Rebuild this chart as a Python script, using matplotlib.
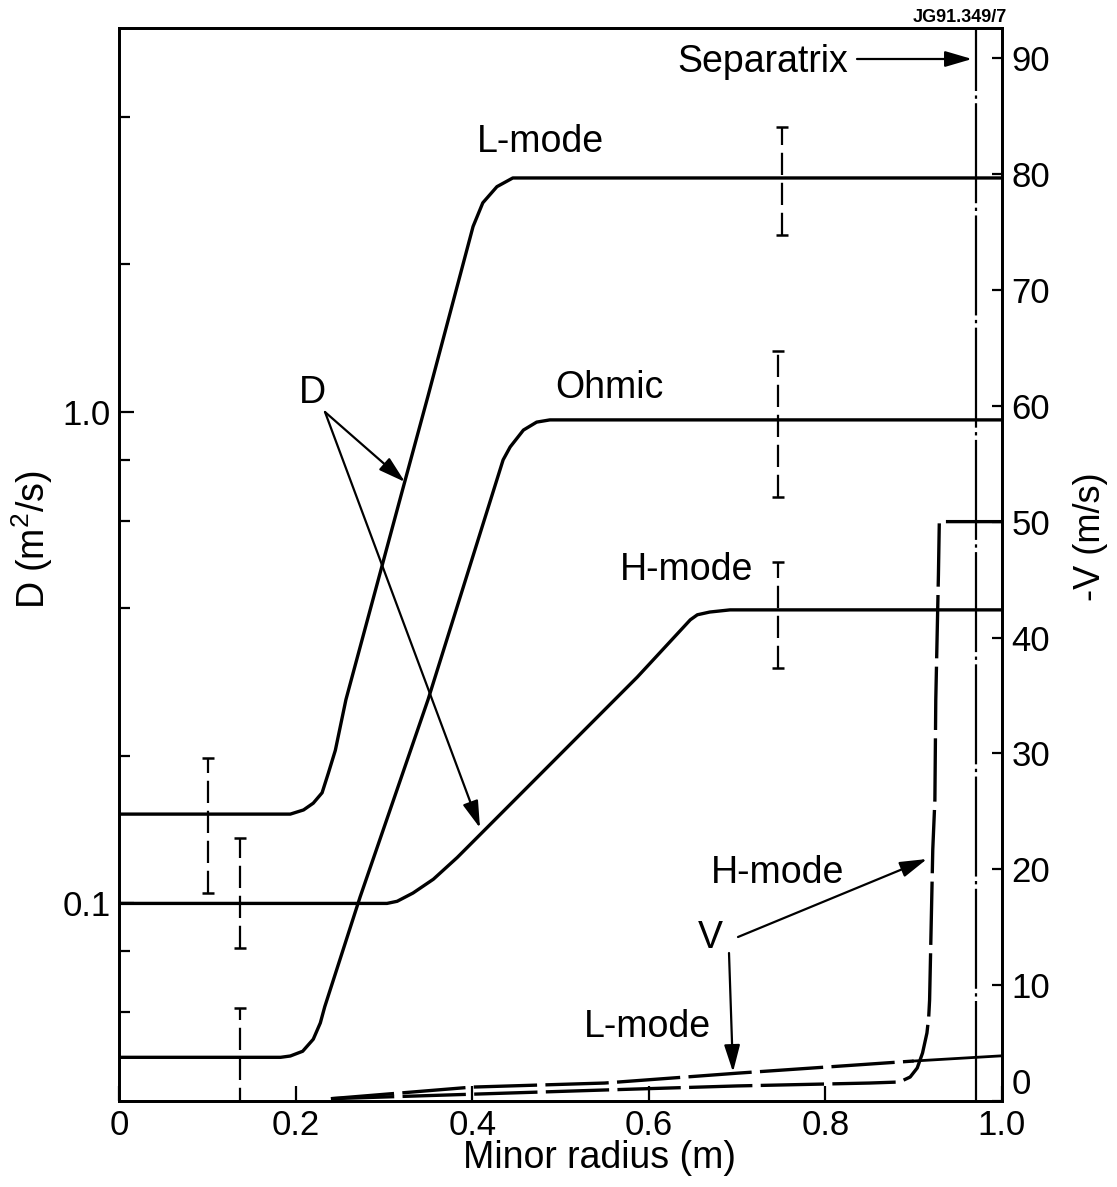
import matplotlib
matplotlib.use("Agg")
import matplotlib.pyplot as plt
import numpy as np

plt.rcParams['font.family'] = ['Liberation Sans', 'DejaVu Sans']

# ---------------- data ----------------
# Diffusion coefficient D (m^2/s) vs minor radius (m)
x_D_L = [0.0, 0.194, 0.209, 0.220, 0.230, 0.237, 0.245, 0.257, 0.319, 0.350,
         0.401, 0.412, 0.428, 0.446, 1.0]
D_L = [0.152, 0.152, 0.155, 0.160, 0.168, 0.184, 0.205, 0.26, 0.673, 1.08,
       2.39, 2.67, 2.88, 3.0, 3.0]

x_D_Ohm = [0.0, 0.183, 0.194, 0.208, 0.220, 0.228, 0.233, 0.273, 0.350,
           0.435, 0.443, 0.458, 0.473, 0.488, 1.0]
D_Ohm = [0.0486, 0.0486, 0.0489, 0.0500, 0.0529, 0.0571, 0.0616, 0.103, 0.26,
         0.80, 0.85, 0.92, 0.955, 0.965, 0.965]

x_D_H = [0.0, 0.3035, 0.315, 0.333, 0.356, 0.383, 0.587,
         0.647, 0.655, 0.669, 0.692, 1.0]
D_H = [0.1, 0.1, 0.101, 0.105, 0.112, 0.124, 0.289,
       0.378, 0.387, 0.392, 0.396, 0.396]

# Error bars on D: x, centre, lower end, upper end
eb_x = [0.101, 0.137, 0.137, 0.751, 0.746, 0.746]
eb_c = [0.152, 0.1, 0.0486, 3.0, 0.965, 0.396]
eb_lo = [0.105, 0.081, 0.038, 2.30, 0.673, 0.301]
eb_hi = [0.198, 0.136, 0.0612, 3.81, 1.33, 0.496]

# Pinch velocity -V (m/s)
x_V_L = [0.24, 0.40, 0.55, 0.70, 0.90, 1.0]
V_L = [0.2, 1.2, 1.55, 2.4, 3.45, 3.9]

x_V_H = [0.24, 0.55, 0.70, 0.85, 0.884, 0.896, 0.904, 0.910, 0.915, 0.917, 0.918,
         0.9216, 0.924, 0.925, 0.928, 0.929, 1.0]
V_H = [0.2, 0.95, 1.3, 1.55, 1.64, 2.07, 2.85, 4.14, 5.87, 7.25, 8.71,
       21.7, 26.0, 34.6, 45.4, 50.0, 50.0]

x_sep = 0.970

x_ticks = [0, 0.2, 0.4, 0.6, 0.8, 1.0]
x_ticklabels = ['0', '0.2', '0.4', '0.6', '0.8', '1.0']
yD_ticks = [0.1, 1.0]
yD_ticklabels = ['0.1', '1.0']
yD_minor = [0.06, 0.08, 0.2, 0.4, 0.6, 0.8, 2, 4]
yV_ticks = [0, 10, 20, 30, 40, 50, 60, 70, 80, 90]

# ---------------- figure ----------------
W, H = 1117, 1187
fig = plt.figure(figsize=(W / 100, H / 100), dpi=100)
L, R, T, B = 119, 1002, 28, 1101
ax = fig.add_axes([L / W, 1 - B / H, (R - L) / W, (B - T) / H])
ax.set_yscale('log')
ax.set_xlim(0, 1.0)
ax.set_ylim(0.0396, 6.06)

lw_curve = 2.4
for xs, ys in [(x_D_L, D_L), (x_D_Ohm, D_Ohm), (x_D_H, D_H)]:
    ax.plot(xs, ys, color='black', lw=lw_curve, solid_joinstyle='round',
            solid_capstyle='round')

yerr = [np.array(eb_c) - np.array(eb_lo), np.array(eb_hi) - np.array(eb_c)]
eb = ax.errorbar(eb_x, eb_c, yerr=yerr, fmt='none', ecolor='black',
                 elinewidth=1.6, capsize=4.5, capthick=1.8)
eb[2][0].set_linestyle((0, (10, 3.5)))

ax.axvline(x_sep, color='black', lw=1.6, linestyle=(0, (45, 2, 1.5, 2)))

ax.set_xticks(x_ticks)
ax.set_xticklabels(x_ticklabels)
ax.set_yticks(yD_ticks)
ax.set_yticklabels(yD_ticklabels)
ax.set_yticks(yD_minor, minor=True)
ax.yaxis.set_minor_formatter(matplotlib.ticker.NullFormatter())
ax.xaxis.set_minor_locator(matplotlib.ticker.NullLocator())
ax.tick_params(axis='both', which='major', direction='in', length=10.5, width=1.6,
               labelsize=25, pad=6, right=False, top=False)
ax.tick_params(axis='y', which='minor', direction='in', length=8, width=1.6, right=False)
for s in ax.spines.values():
    s.set_linewidth(2.0)

ax.set_xlabel('Minor radius (m)', fontsize=27)
ax.xaxis.set_label_coords((600 - L) / (R - L), (B - 1158) / (B - T))
ax.xaxis.label.set_verticalalignment('center')
ax.set_ylabel('D (m$^\\mathregular{2}$/s)', fontsize=27)
ax.yaxis.set_label_coords((32 - L) / (R - L), (B - 540) / (B - T))
ax.yaxis.label.set_verticalalignment('center')

ax2 = ax.twinx()
ax2.set_ylim(0, 92.6)
ax2.plot(x_V_L[:-1], V_L[:-1], color='black', lw=2.4, linestyle=(0, (19, 2.5)))
ax2.plot(x_V_L[-2:], V_L[-2:], color='black', lw=2.0)
ax2.plot(x_V_H, V_H, color='black', lw=2.4, linestyle=(0, (19, 2.5)))
ax2.set_yticks(yV_ticks)
ax2.tick_params(axis='y', direction='in', length=7, width=1.6, labelsize=25, pad=7)
ax2.get_yticklabels()[0].set_verticalalignment('bottom')
ax2.set_ylabel('-V (m/s)', fontsize=26)
ax2.yaxis.set_label_coords((1090 - L) / (R - L), (B - 537) / (B - T))
ax2.yaxis.label.set_verticalalignment('center')
for s in ax2.spines.values():
    s.set_linewidth(2.0)

# ---------------- annotations ----------------
def fx(px):
    return (px - L) / (R - L)

def fy(py):
    return (B - py) / (B - T)

tsize = 27
tr = ax.transAxes
for txt, px, py in [('L-mode', 540, 142), ('Ohmic', 609, 388), ('H-mode', 687, 570),
                    ('H-mode', 778, 873), ('L-mode', 647, 1027), ('D', 312, 393),
                    ('V', 710, 938)]:
    ax.text(fx(px), fy(py), txt, transform=tr, ha='center', va='center', fontsize=tsize)

ax.text(fx(763), fy(62), 'Separatrix', transform=tr, ha='center', va='center', fontsize=tsize)

aprops = dict(arrowstyle='-|>,head_length=0.75,head_width=0.22', mutation_scale=22,
              lw=1.6, color='black', shrinkA=0, shrinkB=0)
arrows = [((325, 412), (405, 482)), ((325, 412), (480, 828)),
          ((738, 937), (927, 859)), ((729, 953), (733, 1072)),
          ((857, 59), (972, 59))]
for (p0, p1) in arrows:
    ax.annotate('', xy=(fx(p1[0]), fy(p1[1])), xytext=(fx(p0[0]), fy(p0[1])),
                xycoords=tr, textcoords=tr, arrowprops=aprops)

fig.text(1007 / W, 1 - 18 / H, 'JG91.349/7', ha='right', va='center',
         fontsize=13, fontweight='bold')

fig.savefig('out.png', dpi=100)
